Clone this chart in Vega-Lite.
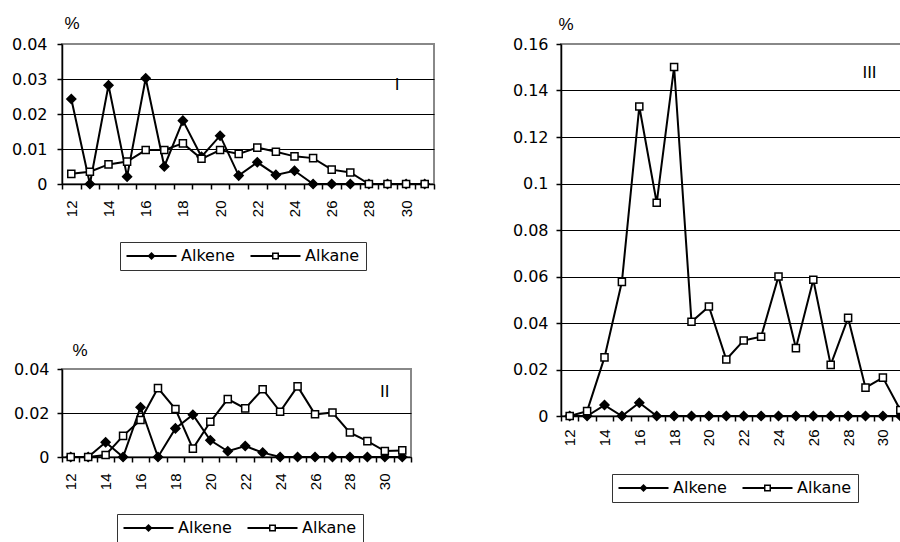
{
  "$schema": "https://vega.github.io/schema/vega-lite/v6.json",
  "padding": {"left": 10, "top": 13, "right": 0, "bottom": 0},
  "background": "white",
  "config": {
    "view": {"stroke": "#888888", "strokeWidth": 2},
    "axis": {"labelColor": "black", "titleColor": "black", "tickColor": "black", "domainColor": "black", "domainWidth": 1.5, "tickWidth": 1.5, "tickSize": 5},
    "legend": {"orient": "none", "direction": "horizontal", "title": null, "strokeColor": "#333333", "fillColor": "white", "padding": 6, "columnPadding": 15,
      "symbolSize": 100, "symbolOffset": 17.5, "labelOffset": 21.5, "symbolStrokeWidth": 0, "symbolFillColor": "black", "symbolOpacity": 1,
      "labelFont": "DejaVu Sans", "labelFontSize": 16, "labelColor": "black"}
  },
  "datasets": {
    "d": [
      {"panel": "I", "series": "Alkene", "c": 12, "v": 0.0243},
      {"panel": "I", "series": "Alkene", "c": 13, "v": 0},
      {"panel": "I", "series": "Alkene", "c": 14, "v": 0.0282},
      {"panel": "I", "series": "Alkene", "c": 15, "v": 0.0021},
      {"panel": "I", "series": "Alkene", "c": 16, "v": 0.0302},
      {"panel": "I", "series": "Alkene", "c": 17, "v": 0.005},
      {"panel": "I", "series": "Alkene", "c": 18, "v": 0.0181},
      {"panel": "I", "series": "Alkene", "c": 19, "v": 0.0078},
      {"panel": "I", "series": "Alkene", "c": 20, "v": 0.0138},
      {"panel": "I", "series": "Alkene", "c": 21, "v": 0.0024},
      {"panel": "I", "series": "Alkene", "c": 22, "v": 0.0062},
      {"panel": "I", "series": "Alkene", "c": 23, "v": 0.0026},
      {"panel": "I", "series": "Alkene", "c": 24, "v": 0.0038},
      {"panel": "I", "series": "Alkene", "c": 25, "v": 0},
      {"panel": "I", "series": "Alkene", "c": 26, "v": 0},
      {"panel": "I", "series": "Alkene", "c": 27, "v": 0},
      {"panel": "I", "series": "Alkene", "c": 28, "v": 0},
      {"panel": "I", "series": "Alkene", "c": 29, "v": 0},
      {"panel": "I", "series": "Alkene", "c": 30, "v": 0},
      {"panel": "I", "series": "Alkene", "c": 31, "v": 0},
      {"panel": "I", "series": "Alkane", "c": 12, "v": 0.0029},
      {"panel": "I", "series": "Alkane", "c": 13, "v": 0.0035},
      {"panel": "I", "series": "Alkane", "c": 14, "v": 0.0056},
      {"panel": "I", "series": "Alkane", "c": 15, "v": 0.0064},
      {"panel": "I", "series": "Alkane", "c": 16, "v": 0.0097},
      {"panel": "I", "series": "Alkane", "c": 17, "v": 0.0097},
      {"panel": "I", "series": "Alkane", "c": 18, "v": 0.0116},
      {"panel": "I", "series": "Alkane", "c": 19, "v": 0.0072},
      {"panel": "I", "series": "Alkane", "c": 20, "v": 0.0097},
      {"panel": "I", "series": "Alkane", "c": 21, "v": 0.0086},
      {"panel": "I", "series": "Alkane", "c": 22, "v": 0.0104},
      {"panel": "I", "series": "Alkane", "c": 23, "v": 0.0092},
      {"panel": "I", "series": "Alkane", "c": 24, "v": 0.0079},
      {"panel": "I", "series": "Alkane", "c": 25, "v": 0.0074},
      {"panel": "I", "series": "Alkane", "c": 26, "v": 0.0041},
      {"panel": "I", "series": "Alkane", "c": 27, "v": 0.0033},
      {"panel": "I", "series": "Alkane", "c": 28, "v": 0},
      {"panel": "I", "series": "Alkane", "c": 29, "v": 0},
      {"panel": "I", "series": "Alkane", "c": 30, "v": 0},
      {"panel": "I", "series": "Alkane", "c": 31, "v": 0},
      {"panel": "II", "series": "Alkene", "c": 12, "v": 0},
      {"panel": "II", "series": "Alkene", "c": 13, "v": 0},
      {"panel": "II", "series": "Alkene", "c": 14, "v": 0.0067},
      {"panel": "II", "series": "Alkene", "c": 15, "v": 0},
      {"panel": "II", "series": "Alkene", "c": 16, "v": 0.0226},
      {"panel": "II", "series": "Alkene", "c": 17, "v": 0},
      {"panel": "II", "series": "Alkene", "c": 18, "v": 0.013},
      {"panel": "II", "series": "Alkene", "c": 19, "v": 0.0192},
      {"panel": "II", "series": "Alkene", "c": 20, "v": 0.0076},
      {"panel": "II", "series": "Alkene", "c": 21, "v": 0.0026},
      {"panel": "II", "series": "Alkene", "c": 22, "v": 0.005},
      {"panel": "II", "series": "Alkene", "c": 23, "v": 0.002},
      {"panel": "II", "series": "Alkene", "c": 24, "v": 0},
      {"panel": "II", "series": "Alkene", "c": 25, "v": 0},
      {"panel": "II", "series": "Alkene", "c": 26, "v": 0},
      {"panel": "II", "series": "Alkene", "c": 27, "v": 0},
      {"panel": "II", "series": "Alkene", "c": 28, "v": 0},
      {"panel": "II", "series": "Alkene", "c": 29, "v": 0},
      {"panel": "II", "series": "Alkene", "c": 30, "v": 0},
      {"panel": "II", "series": "Alkene", "c": 31, "v": 0},
      {"panel": "II", "series": "Alkane", "c": 12, "v": 0},
      {"panel": "II", "series": "Alkane", "c": 13, "v": 0},
      {"panel": "II", "series": "Alkane", "c": 14, "v": 0.0009},
      {"panel": "II", "series": "Alkane", "c": 15, "v": 0.0096},
      {"panel": "II", "series": "Alkane", "c": 16, "v": 0.0168},
      {"panel": "II", "series": "Alkane", "c": 17, "v": 0.0313},
      {"panel": "II", "series": "Alkane", "c": 18, "v": 0.0218},
      {"panel": "II", "series": "Alkane", "c": 19, "v": 0.0038},
      {"panel": "II", "series": "Alkane", "c": 20, "v": 0.016},
      {"panel": "II", "series": "Alkane", "c": 21, "v": 0.0263},
      {"panel": "II", "series": "Alkane", "c": 22, "v": 0.0221},
      {"panel": "II", "series": "Alkane", "c": 23, "v": 0.0308},
      {"panel": "II", "series": "Alkane", "c": 24, "v": 0.0206},
      {"panel": "II", "series": "Alkane", "c": 25, "v": 0.0321},
      {"panel": "II", "series": "Alkane", "c": 26, "v": 0.0194},
      {"panel": "II", "series": "Alkane", "c": 27, "v": 0.0202},
      {"panel": "II", "series": "Alkane", "c": 28, "v": 0.0111},
      {"panel": "II", "series": "Alkane", "c": 29, "v": 0.0072},
      {"panel": "II", "series": "Alkane", "c": 30, "v": 0.0027},
      {"panel": "II", "series": "Alkane", "c": 31, "v": 0.003},
      {"panel": "III", "series": "Alkene", "c": 12, "v": 0},
      {"panel": "III", "series": "Alkene", "c": 13, "v": 0},
      {"panel": "III", "series": "Alkene", "c": 14, "v": 0.0047},
      {"panel": "III", "series": "Alkene", "c": 15, "v": 0},
      {"panel": "III", "series": "Alkene", "c": 16, "v": 0.0057},
      {"panel": "III", "series": "Alkene", "c": 17, "v": 0},
      {"panel": "III", "series": "Alkene", "c": 18, "v": 0},
      {"panel": "III", "series": "Alkene", "c": 19, "v": 0},
      {"panel": "III", "series": "Alkene", "c": 20, "v": 0},
      {"panel": "III", "series": "Alkene", "c": 21, "v": 0},
      {"panel": "III", "series": "Alkene", "c": 22, "v": 0},
      {"panel": "III", "series": "Alkene", "c": 23, "v": 0},
      {"panel": "III", "series": "Alkene", "c": 24, "v": 0},
      {"panel": "III", "series": "Alkene", "c": 25, "v": 0},
      {"panel": "III", "series": "Alkene", "c": 26, "v": 0},
      {"panel": "III", "series": "Alkene", "c": 27, "v": 0},
      {"panel": "III", "series": "Alkene", "c": 28, "v": 0},
      {"panel": "III", "series": "Alkene", "c": 29, "v": 0},
      {"panel": "III", "series": "Alkene", "c": 30, "v": 0},
      {"panel": "III", "series": "Alkene", "c": 31, "v": 0},
      {"panel": "III", "series": "Alkane", "c": 12, "v": 0},
      {"panel": "III", "series": "Alkane", "c": 13, "v": 0.0021},
      {"panel": "III", "series": "Alkane", "c": 14, "v": 0.0252},
      {"panel": "III", "series": "Alkane", "c": 15, "v": 0.0577},
      {"panel": "III", "series": "Alkane", "c": 16, "v": 0.1331},
      {"panel": "III", "series": "Alkane", "c": 17, "v": 0.0917},
      {"panel": "III", "series": "Alkane", "c": 18, "v": 0.1501},
      {"panel": "III", "series": "Alkane", "c": 19, "v": 0.0405},
      {"panel": "III", "series": "Alkane", "c": 20, "v": 0.0471},
      {"panel": "III", "series": "Alkane", "c": 21, "v": 0.0243},
      {"panel": "III", "series": "Alkane", "c": 22, "v": 0.0325},
      {"panel": "III", "series": "Alkane", "c": 23, "v": 0.0341},
      {"panel": "III", "series": "Alkane", "c": 24, "v": 0.06},
      {"panel": "III", "series": "Alkane", "c": 25, "v": 0.0292},
      {"panel": "III", "series": "Alkane", "c": 26, "v": 0.0586},
      {"panel": "III", "series": "Alkane", "c": 27, "v": 0.022},
      {"panel": "III", "series": "Alkane", "c": 28, "v": 0.0422},
      {"panel": "III", "series": "Alkane", "c": 29, "v": 0.0122},
      {"panel": "III", "series": "Alkane", "c": 30, "v": 0.0165},
      {"panel": "III", "series": "Alkane", "c": 31, "v": 0.0026}
    ],
    "lab": [
      {"panel": "I", "c": 30, "v": 0.0283, "t": "I"},
      {"panel": "II", "c": 30, "v": 0.0295, "t": "II"},
      {"panel": "III", "c": 29, "v": 0.1475, "t": "III"}
    ]
  },
  "hconcat": [
    {
      "vconcat": [
        {
          "width": 372, "height": 140,
          "resolve": {"scale": {"shape": "independent"}},
          "layer": [
            {
              "data": {"name": "d"},
              "transform": [{"filter": "datum.panel === 'I'"}],
              "mark": {"type": "line", "strokeWidth": 2, "color": "black"},
              "encoding": {
                "x": {"field": "c", "type": "ordinal", "scale": {"type": "band", "domain": [12,13,14,15,16,17,18,19,20,21,22,23,24,25,26,27,28,29,30,31], "paddingInner": 0, "paddingOuter": 0},
                  "axis": {"title": null, "tickBand": "extent", "labelAngle": -90, "labelAlign": "right", "labelBaseline": "middle", "labelExpr": "datum.value % 2 === 0 ? datum.label : ''", "labelOverlap": false, "labelPadding": 11, "labelFont": "Liberation Sans", "labelFontSize": 15, "grid": false}},
                "y": {"field": "v", "type": "quantitative", "scale": {"domain": [0, 0.04], "nice": false, "zero": true},
                  "axis": {"title": "%", "titleAngle": 0, "titleX": 2, "titleY": -16, "titleAlign": "left", "titleBaseline": "alphabetic", "titleFont": "Liberation Sans", "titleFontSize": 17, "titleFontWeight": "normal",
                    "values": [0, 0.01, 0.02, 0.03, 0.04], "tickCount": 10, "format": "~f", "labelFont": "DejaVu Sans", "labelFontSize": 16, "labelPadding": 10, "labelOverlap": false,
                    "grid": true, "gridWidth": 1, "gridColor": {"condition": {"test": "datum.value > 0.039", "value": "#888888"}, "value": "black"}}},
                "detail": {"field": "series"}
              }
            },
            {
              "data": {"name": "d"},
              "transform": [{"filter": "datum.panel === 'I'"}],
              "mark": {"type": "point", "stroke": "black", "strokeWidth": 1.5, "opacity": 1, "fillOpacity": 1},
              "encoding": {
                "x": {"field": "c", "type": "ordinal"},
                "y": {"field": "v", "type": "quantitative"},
                "shape": {"field": "series", "type": "nominal", "scale": {"domain": ["Alkene", "Alkane"], "range": ["diamond", "square"]}, "legend": null},
                "fill": {"field": "series", "type": "nominal", "scale": {"domain": ["Alkene", "Alkane"], "range": ["black", "white"]}, "legend": null},
                "size": {"field": "series", "type": "nominal", "scale": {"domain": ["Alkene", "Alkane"], "range": [80, 50]}, "legend": null}
              }
            },
            {
              "data": {"name": "d"},
              "transform": [{"filter": "datum.panel === 'I' && datum.c === 20"}],
              "mark": {"type": "point", "filled": true, "color": "black", "opacity": 0, "size": 100},
              "encoding": {
                "x": {"field": "c", "type": "ordinal"},
                "y": {"field": "v", "type": "quantitative"},
                "shape": {"field": "series", "type": "nominal",
                  "scale": {"domain": ["Alkene", "Alkane"], "range": ["M-5,-0.2H5V0.2H-5Z M0,-0.8L0.8,0L0,0.8L-0.8,0Z", "M-5,-0.2H-0.7V0.2H-5Z M0.7,-0.2H5V0.2H0.7Z M-0.7,-0.7H0.7V0.7H-0.7Z M-0.4,-0.4V0.4H0.4V-0.4Z"]},
                  "legend": {"legendX": 58, "legendY": 198}}
              }
            },
            {
              "data": {"name": "lab"},
              "transform": [{"filter": "datum.panel === 'I'"}],
              "mark": {"type": "text", "font": "Liberation Sans", "fontSize": 17, "dx": -9, "baseline": "middle", "color": "black"},
              "encoding": {
                "x": {"field": "c", "type": "ordinal"},
                "y": {"field": "v", "type": "quantitative"},
                "text": {"field": "t"}
              }
            }
          ]
        },
        {
          "width": 349, "height": 88,
          "resolve": {"scale": {"shape": "independent"}},
          "layer": [
            {
              "data": {"name": "d"},
              "transform": [{"filter": "datum.panel === 'II'"}],
              "mark": {"type": "line", "strokeWidth": 2, "color": "black"},
              "encoding": {
                "x": {"field": "c", "type": "ordinal", "scale": {"type": "band", "domain": [12,13,14,15,16,17,18,19,20,21,22,23,24,25,26,27,28,29,30,31], "paddingInner": 0, "paddingOuter": 0},
                  "axis": {"title": null, "tickBand": "extent", "labelAngle": -90, "labelAlign": "right", "labelBaseline": "middle", "labelExpr": "datum.value % 2 === 0 ? datum.label : ''", "labelOverlap": false, "labelPadding": 11, "labelFont": "Liberation Sans", "labelFontSize": 15, "grid": false}},
                "y": {"field": "v", "type": "quantitative", "scale": {"domain": [0, 0.04], "nice": false, "zero": true},
                  "axis": {"title": "%", "titleAngle": 0, "titleX": 10, "titleY": -14, "titleAlign": "left", "titleBaseline": "alphabetic", "titleFont": "Liberation Sans", "titleFontSize": 17, "titleFontWeight": "normal",
                    "values": [0, 0.02, 0.04], "tickCount": 10, "format": "~f", "labelFont": "DejaVu Sans", "labelFontSize": 16, "labelPadding": 8, "labelOverlap": false,
                    "grid": true, "gridWidth": 1, "gridColor": {"condition": {"test": "datum.value > 0.039", "value": "#888888"}, "value": "black"}}},
                "detail": {"field": "series"}
              }
            },
            {
              "data": {"name": "d"},
              "transform": [{"filter": "datum.panel === 'II'"}],
              "mark": {"type": "point", "stroke": "black", "strokeWidth": 1.5, "opacity": 1, "fillOpacity": 1},
              "encoding": {
                "x": {"field": "c", "type": "ordinal"},
                "y": {"field": "v", "type": "quantitative"},
                "shape": {"field": "series", "type": "nominal", "scale": {"domain": ["Alkene", "Alkane"], "range": ["diamond", "square"]}, "legend": null},
                "fill": {"field": "series", "type": "nominal", "scale": {"domain": ["Alkene", "Alkane"], "range": ["black", "white"]}, "legend": null},
                "size": {"field": "series", "type": "nominal", "scale": {"domain": ["Alkene", "Alkane"], "range": [80, 50]}, "legend": null}
              }
            },
            {
              "data": {"name": "d"},
              "transform": [{"filter": "datum.panel === 'II' && datum.c === 20"}],
              "mark": {"type": "point", "filled": true, "color": "black", "opacity": 0, "size": 100},
              "encoding": {
                "x": {"field": "c", "type": "ordinal"},
                "y": {"field": "v", "type": "quantitative"},
                "shape": {"field": "series", "type": "nominal",
                  "scale": {"domain": ["Alkene", "Alkane"], "range": ["M-5,-0.2H5V0.2H-5Z M0,-0.8L0.8,0L0,0.8L-0.8,0Z", "M-5,-0.2H-0.7V0.2H-5Z M0.7,-0.2H5V0.2H0.7Z M-0.7,-0.7H0.7V0.7H-0.7Z M-0.4,-0.4V0.4H0.4V-0.4Z"]},
                  "legend": {"legendX": 55, "legendY": 145}}
              }
            },
            {
              "data": {"name": "lab"},
              "transform": [{"filter": "datum.panel === 'II'"}],
              "mark": {"type": "text", "font": "Liberation Sans", "fontSize": 17, "dx": 0, "baseline": "middle", "color": "black"},
              "encoding": {
                "x": {"field": "c", "type": "ordinal"},
                "y": {"field": "v", "type": "quantitative"},
                "text": {"field": "t"}
              }
            }
          ]
        }
      ],
      "spacing": 185,
      "bounds": "flush",
      "resolve": {"scale": {"x": "independent", "y": "independent", "shape": "independent", "fill": "independent", "size": "independent"}, "legend": {"shape": "independent"}}
    },
    {
      "width": 348, "height": 372,
      "resolve": {"scale": {"shape": "independent"}},
      "layer": [
        {
          "data": {"name": "d"},
          "transform": [{"filter": "datum.panel === 'III'"}],
          "mark": {"type": "line", "strokeWidth": 2, "color": "black"},
          "encoding": {
            "x": {"field": "c", "type": "ordinal", "scale": {"type": "band", "domain": [12,13,14,15,16,17,18,19,20,21,22,23,24,25,26,27,28,29,30,31], "paddingInner": 0, "paddingOuter": 0},
              "axis": {"title": null, "tickBand": "extent", "labelAngle": -90, "labelAlign": "right", "labelBaseline": "middle", "labelExpr": "datum.value % 2 === 0 ? datum.label : ''", "labelOverlap": false, "labelPadding": 8, "labelFont": "Liberation Sans", "labelFontSize": 15, "grid": false}},
            "y": {"field": "v", "type": "quantitative", "scale": {"domain": [0, 0.16], "nice": false, "zero": true},
              "axis": {"title": "%", "titleAngle": 0, "titleX": -3, "titleY": -15, "titleAlign": "left", "titleBaseline": "alphabetic", "titleFont": "Liberation Sans", "titleFontSize": 17, "titleFontWeight": "normal",
                "values": [0, 0.02, 0.04, 0.06, 0.08, 0.1, 0.12, 0.14, 0.16], "tickCount": 20, "format": "~f", "labelFont": "DejaVu Sans", "labelFontSize": 16, "labelPadding": 8, "labelOverlap": false,
                "grid": true, "gridWidth": 1, "gridColor": {"condition": {"test": "datum.value > 0.159", "value": "#888888"}, "value": "black"}}},
            "detail": {"field": "series"}
          }
        },
        {
          "data": {"name": "d"},
          "transform": [{"filter": "datum.panel === 'III'"}],
          "mark": {"type": "point", "stroke": "black", "strokeWidth": 1.5, "opacity": 1, "fillOpacity": 1},
          "encoding": {
            "x": {"field": "c", "type": "ordinal"},
            "y": {"field": "v", "type": "quantitative"},
            "shape": {"field": "series", "type": "nominal", "scale": {"domain": ["Alkene", "Alkane"], "range": ["diamond", "square"]}, "legend": null},
            "fill": {"field": "series", "type": "nominal", "scale": {"domain": ["Alkene", "Alkane"], "range": ["black", "white"]}, "legend": null},
            "size": {"field": "series", "type": "nominal", "scale": {"domain": ["Alkene", "Alkane"], "range": [80, 50]}, "legend": null}
          }
        },
        {
          "data": {"name": "d"},
          "transform": [{"filter": "datum.panel === 'III' && datum.c === 20"}],
          "mark": {"type": "point", "filled": true, "color": "black", "opacity": 0, "size": 100},
          "encoding": {
            "x": {"field": "c", "type": "ordinal"},
            "y": {"field": "v", "type": "quantitative"},
            "shape": {"field": "series", "type": "nominal",
              "scale": {"domain": ["Alkene", "Alkane"], "range": ["M-5,-0.2H5V0.2H-5Z M0,-0.8L0.8,0L0,0.8L-0.8,0Z", "M-5,-0.2H-0.7V0.2H-5Z M0.7,-0.2H5V0.2H0.7Z M-0.7,-0.7H0.7V0.7H-0.7Z M-0.4,-0.4V0.4H0.4V-0.4Z"]},
              "legend": {"legendX": 51, "legendY": 430}}
          }
        },
        {
          "data": {"name": "lab"},
          "transform": [{"filter": "datum.panel === 'III'"}],
          "mark": {"type": "text", "font": "Liberation Sans", "fontSize": 17, "dx": 4, "baseline": "middle", "color": "black"},
          "encoding": {
            "x": {"field": "c", "type": "ordinal"},
            "y": {"field": "v", "type": "quantitative"},
            "text": {"field": "t"}
          }
        }
      ]
    }
  ],
  "spacing": 75,
  "resolve": {"scale": {"x": "independent", "y": "independent", "shape": "independent", "fill": "independent", "size": "independent"}, "legend": {"shape": "independent"}}
}
